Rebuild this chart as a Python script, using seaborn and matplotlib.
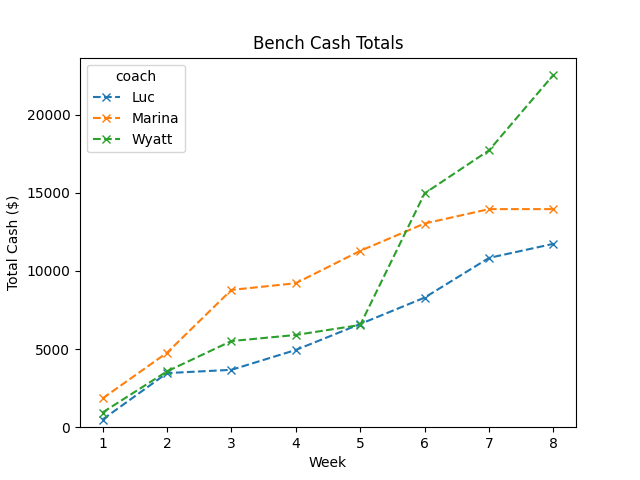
import pandas as pd
import matplotlib
matplotlib.use("Agg")
from matplotlib import pyplot as plt
import seaborn as sns

weeks = [1, 2, 3, 4, 5, 6, 7, 8]
luc = [490, 3460, 3670, 4940, 6600, 8290, 10830, 11730]
marina = [1840, 4760, 8780, 9210, 11280, 13030, 13950, 13950]
wyatt = [940, 3570, 5510, 5900, 6540, 14960, 17710, 22540]
coaches = ["Luc", "Marina", "Wyatt"]

df = pd.DataFrame({
    "week": weeks * 3,
    "cash": luc + marina + wyatt,
    "coach": ["Luc"] * 8 + ["Marina"] * 8 + ["Wyatt"] * 8,
})

fig, ax = plt.subplots(figsize=(6.4, 4.8), dpi=100)
sns.lineplot(data=df, x="week", y="cash", hue="coach", marker="x",
             linestyle="--", legend=False, ax=ax)
# x markers are edge only, so give them the line colour
lines = ax.get_lines()[:3]
for ln in lines:
    ln.set_markeredgecolor(ln.get_color())
    ln.set_markeredgewidth(1.0)
    ln.set_markersize(6)
    ln.set_linestyle("--")
ax.set_ylim(bottom=0)
ax.set_title("Bench Cash Totals")
ax.set_xlabel("Week")
ax.set_ylabel("Total Cash ($)")
ax.legend(lines, coaches, title="coach", loc="upper left")
plt.savefig("out.png")
